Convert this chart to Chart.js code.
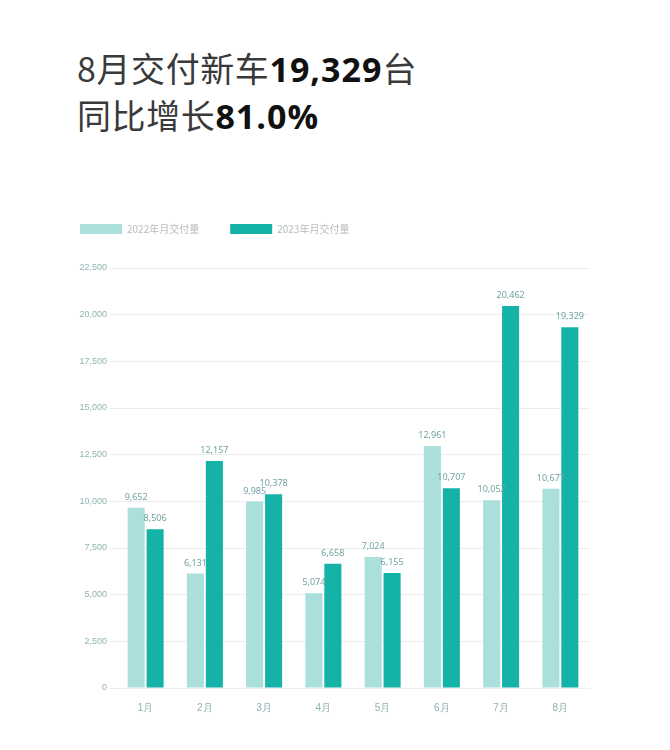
<!DOCTYPE html>
<html lang="zh">
<head>
  <meta charset="UTF-8" />
  <title>8月交付新车</title>
  <script src="https://cdn.jsdelivr.net/npm/chart.js"></script>
  <style>
    html, body { margin: 0; background: #fff; }
    body { width: 670px; height: 750px; position: relative; overflow: hidden; font-family: "Noto Sans CJK SC", "Noto Sans", sans-serif; }
    .head { position: absolute; left: 77px; top: 45px; font-size: 34px; line-height: 45px; color: #3a3a3a; letter-spacing: 0.6px; }
    .head b { color: #111; font-family: "Open Sans", "Noto Sans", sans-serif; font-weight: 700; letter-spacing: 1px; }
    .box { position: absolute; left: 49px; top: 181px; width: 556px; height: 539px; }
  </style>
</head>
<body>
  <div class="head">
    <div>8月交付新车<b>19,329</b>台</div>
    <div>同比增长<b>81.0%</b></div>
  </div>
  <div class="box"><canvas id="chart"></canvas></div>

  <script>
    const months = ['1月', '2月', '3月', '4月', '5月', '6月', '7月', '8月'];
    const deliveries2022 = [9652, 6131, 9985, 5074, 7024, 12961, 10052, 10677];
    const deliveries2023 = [8506, 12157, 10378, 6658, 6155, 10707, 20462, 19329];
    const seriesNames = ['2022年月交付量', '2023年月交付量'];

    const fmt = v => v.toLocaleString('en-US');

    // leave extra room under the legend
    const legendGap = {
      id: 'legendGap',
      beforeInit(chart) {
        const fit = chart.legend.fit;
        chart.legend.fit = function () {
          fit.bind(chart.legend)();
          this.height += 24;
        };
      }
    };

    // value above each bar
    const barValues = {
      id: 'barValues',
      afterDatasetsDraw(chart) {
        const ctx = chart.ctx;
        ctx.save();
        ctx.font = '9px "Noto Sans", sans-serif';
        ctx.fillStyle = '#72a4a2';
        ctx.textAlign = 'center';
        ctx.textBaseline = 'bottom';
        chart.data.datasets.forEach((ds, i) => {
          chart.getDatasetMeta(i).data.forEach((bar, j) => {
            ctx.fillText(fmt(ds.data[j]), bar.x, bar.y - 6);
          });
        });
        ctx.restore();
      }
    };

    new Chart(document.getElementById('chart'), {
      type: 'bar',
      data: {
        labels: months,
        datasets: [
          { label: seriesNames[0], data: deliveries2022, backgroundColor: '#aadfdc' },
          { label: seriesNames[1], data: deliveries2023, backgroundColor: '#14b2a7' }
        ]
      },
      options: {
        responsive: true,
        maintainAspectRatio: false,
        animation: false,
        categoryPercentage: 0.64,
        barPercentage: 0.9,
        layout: { padding: { left: 0, right: 15, top: 12, bottom: 0 } },
        plugins: {
          tooltip: { enabled: false },
          legend: {
            position: 'top',
            align: 'start',
            labels: {
              boxWidth: 42,
              boxHeight: 10,
              padding: 31,
              color: '#b8bcbc',
              font: { size: 10, family: '"Noto Sans CJK SC", sans-serif' }
            }
          }
        },
        scales: {
          x: {
            grid: { display: false },
            border: { color: '#eeeeee' },
            ticks: { color: '#8fb3b1', font: { size: 10 }, padding: 6 }
          },
          y: {
            min: 0,
            max: 22500,
            afterFit: s => { s.width = 67; },
            border: { display: false },
            grid: { color: '#ececec', tickLength: 6 },
            ticks: {
              stepSize: 2500,
              padding: 3,
              color: '#8fb3b1',
              font: { size: 9 },
              callback: v => fmt(v)
            }
          }
        }
      },
      plugins: [legendGap, barValues]
    });
  </script>
</body>
</html>
